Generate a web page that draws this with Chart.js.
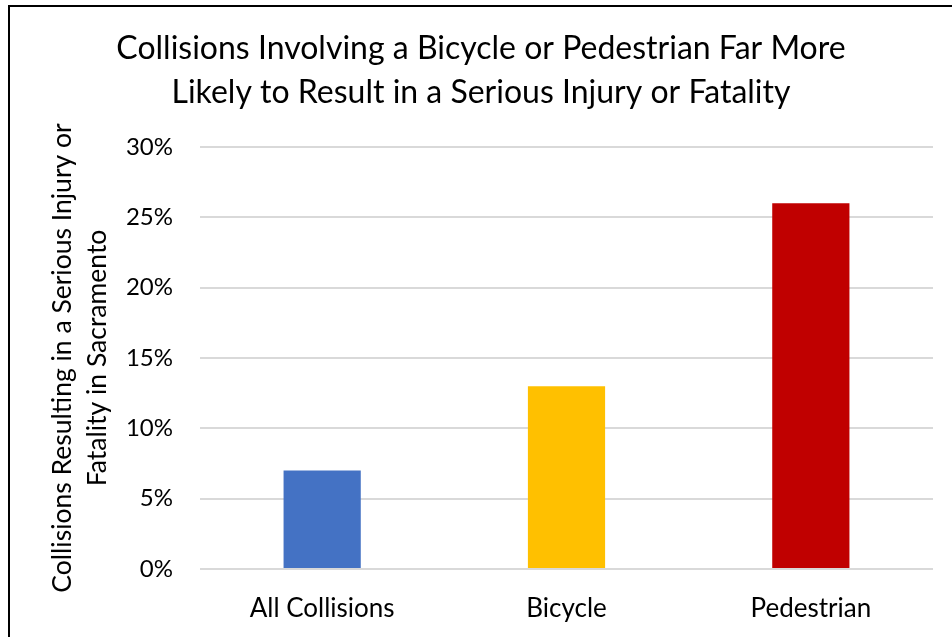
<!DOCTYPE html>
<html>
<head>
<meta charset="utf-8">
<script src="https://cdn.jsdelivr.net/npm/chart.js@4"></script>
<style>
    html, body { margin: 0; padding: 0; background: #fff; }
    body { width: 952px; height: 637px; overflow: hidden; position: relative; }
    #frame {
        position: absolute; left: 8px; top: 5px;
        width: 944px; height: 632px;
        border-top: 2px solid #000; border-left: 2px solid #000;
    }
    #chart { display: block; }
</style>
</head>
<body>
<div id="frame"><canvas id="chart" width="942" height="630"></canvas></div>
<script>
// Share of collisions resulting in serious injury or fatality (Sacramento)
const categories = ['All Collisions', 'Bicycle', 'Pedestrian'];
const shares = [0.07, 0.13, 0.26];
const barColors = ['#4472C4', '#FFC000', '#C00000'];
const titleLines = [
    'Collisions Involving a Bicycle or Pedestrian Far More',
    'Likely to Result in a Serious Injury or Fatality'
];
const yTitleLines = ['Collisions Resulting in a Serious Injury or', 'Fatality in Sacramento'];

const FONT = 'Lato, "Open Sans", sans-serif';

new Chart(document.getElementById('chart'), {
    type: 'bar',
    data: {
        labels: categories,
        datasets: [{
            data: shares,
            backgroundColor: barColors,
            borderWidth: 0,
            categoryPercentage: 1,
            barPercentage: 0.316
        }]
    },
    options: {
        responsive: false,
        animation: false,
        layout: { padding: 0 },
        plugins: {
            legend: { display: false },
            tooltip: { enabled: false },
            title: {
                display: true,
                text: titleLines,
                color: '#000',
                font: { family: FONT, size: 32, weight: 'normal', lineHeight: '44px' },
                padding: { top: 20, bottom: 32 }
            }
        },
        scales: {
            x: {
                grid: { display: false },
                border: { display: false },
                ticks: { color: '#000', font: { family: FONT, size: 26 }, padding: 16 },
                afterFit: (scale) => { scale.height = 68; }
            },
            y: {
                min: 0,
                max: 0.3,
                ticks: {
                    stepSize: 0.05,
                    color: '#000',
                    padding: 27,
                    font: { family: FONT, size: 24 },
                    callback: (v) => Math.round(v * 100) + '%'
                },
                grid: { color: '#D9D9D9', lineWidth: 2, drawTicks: false },
                border: { display: false },
                title: {
                    display: true,
                    text: yTitleLines,
                    color: '#000',
                    font: { family: FONT, size: 26.5, lineHeight: '35px' },
                    padding: { top: 35, bottom: 0 }
                },
                afterFit: (scale) => { scale.width = 190; }
            },
            // empty right margin so the title stays centred on the whole frame
            yRight: {
                position: 'right',
                min: 0,
                max: 0.3,
                grid: { display: false },
                border: { display: false },
                ticks: { display: false },
                afterFit: (scale) => { scale.width = 19; }
            }
        }
    }
});
</script>
</body>
</html>
